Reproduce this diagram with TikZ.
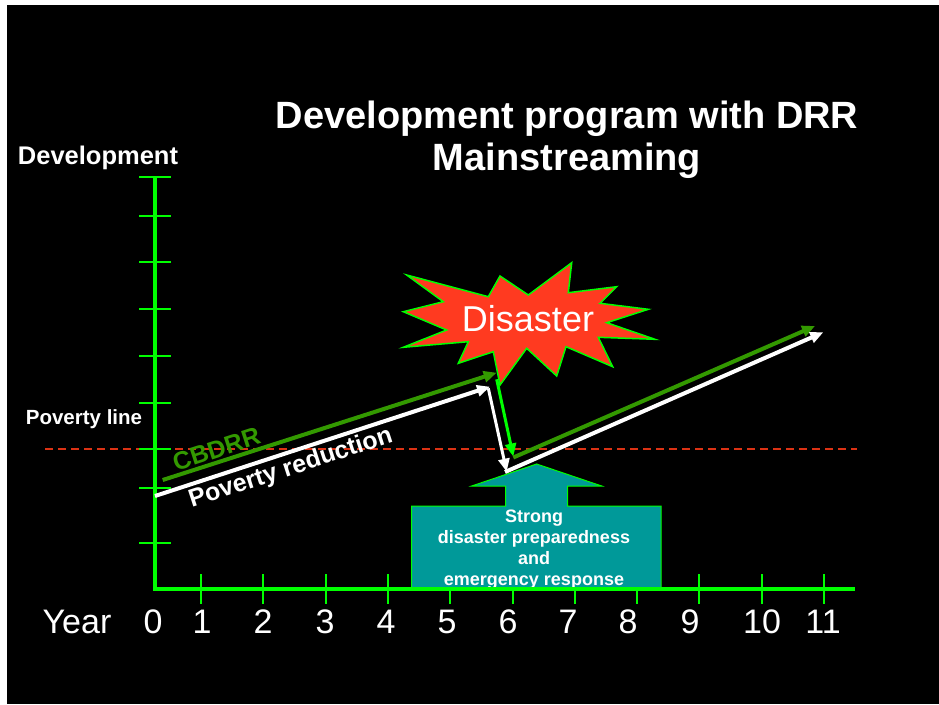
\documentclass[tikz,border=0pt]{standalone}
\usepackage{fontspec}
\setmainfont{Liberation Sans}
\usetikzlibrary{arrows.meta}
\definecolor{axisgreen}{RGB}{0,255,0}
\definecolor{drrgreen}{RGB}{51,153,0}
\definecolor{starred}{RGB}{255,58,32}
\definecolor{prepteal}{RGB}{0,153,153}
\definecolor{lineRed}{RGB}{220,50,20}
\tikzset{
  axisline/.style={axisgreen, line width=4pt},
  tickline/.style={axisgreen, line width=2pt},
  trend/.style={line width=4pt, -{Triangle[length=13pt,width=11pt]}},
  yearlabel/.style={white, font=\fontsize{34}{40}\selectfont},
  sidelabel/.style={white, font=\fontsize{20.5}{24}\selectfont\bfseries},
  pathlabel/.style={rotate=18, font=\fontsize{25}{30}\selectfont\bfseries},
}
\begin{document}
\begin{tikzpicture}[x=1pt,y=-1pt]
\useasboundingbox (0,0) rectangle (939,704);
\fill[white] (0,0) rectangle (939,704);
\fill[black] (7,5) rectangle (939,704);

% title
\node[white, align=center, font=\fontsize{38}{42}\selectfont\bfseries] (title) at (567,140)
  {Development program with DRR\\Mainstreaming};

% axis labels
\node[white, font=\fontsize{25.5}{30}\selectfont\bfseries] (ylab) at (98,158) {Development};
\node[sidelabel] (povlab) at (84,419) {Poverty line};

% poverty line
\draw[lineRed, line width=1.3pt, dash pattern=on 8pt off 5pt] (45,449) -- (857,449);

% y ticks
\foreach \yy in {176.7,216,262,309,356,403,449,488.3,542.7}
  \draw[tickline] (139,\yy) -- (171,\yy);
% x ticks
\foreach \k in {0,...,10}
  \draw[tickline] ({201+62.3*\k},574) -- ({201+62.3*\k},604);

% preparedness arrow-box
\draw[fill=prepteal, draw=axisgreen, line width=1pt]
  (411.7,588) -- (411.7,506) -- (505.7,506) -- (505.7,486) -- (471.7,486)
  -- (536.7,464) -- (601.7,486) -- (567.7,486) -- (567.7,506) -- (661,506)
  -- (661,588) -- cycle;
\node[white, align=center, font=\fontsize{18}{21}\selectfont\bfseries] (prep) at (534,549.5)
  {Strong\\disaster preparedness\\and\\emergency response};

% axes
\coordinate (origin) at (155,588.5);
\draw[axisline] (155,176.7) -- (origin) -- (855,588.5);

% year labels
\node[yearlabel] (year) at (77,622) {Year};
\foreach \lab/\xx in {0/153,1/202,2/263,3/325,4/386,5/447,6/508,7/568,8/628,9/690,10/762,11/823}
  \node[yearlabel] at (\xx,622) {\lab};

% disaster burst
\draw[fill=starred, draw=axisgreen, line width=1.5pt]
  (406.7,275) -- (488.3,296.7) -- (500,276) -- (528.3,295) -- (571.7,262.7)
  -- (568.3,292.7) -- (616.7,286.7) -- (600,303.3) -- (648.3,309.3)
  -- (606.7,322.7) -- (655,339.3) -- (598.3,337.3) -- (612.7,366.7)
  -- (566,346.7) -- (556.7,376) -- (526.7,348.3) -- (500,385)
  -- (493.3,351.7) -- (458.3,363.3) -- (468.3,341.7) -- (403.3,347.3)
  -- (446.7,330) -- (403.3,311.7) -- (443.3,301.7) -- cycle;
\node[white, font=\fontsize{36}{40}\selectfont] (disaster) at (528,319) {Disaster};

% CBDRR path
\coordinate (g0) at (162.7,480);
\coordinate (g1) at (496.7,372.7);
\coordinate (g2) at (496.7,379.3);
\coordinate (g3) at (513.3,456.5);
\coordinate (g4) at (513.3,457.5);
\coordinate (g5) at (815,326);
\draw[trend, drrgreen] (g0) -- (g1);
\draw[trend, axisgreen, line width=3pt] (g2) -- (g3);
\draw[trend, drrgreen] (g4) -- (g5);

% poverty reduction path
\coordinate (w0) at (155,496);
\coordinate (w1) at (490,386.7);
\coordinate (w2) at (488.3,388.3);
\coordinate (w3) at (506.7,471.7);
\coordinate (w4) at (505,472);
\coordinate (w5) at (823.3,332.3);
\draw[trend, white] (w0) -- (w1);
\draw[trend, white, line width=3pt] (w2) -- (w3);
\draw[trend, white] (w4) -- (w5);

% path labels, set just off their lines
\node[pathlabel, drrgreen] (cbdrr) at (216.5,449.1) {CBDRR};
\node[pathlabel, white] (povred) at (290.9,468.5) {Poverty reduction};
\end{tikzpicture}
\end{document}
